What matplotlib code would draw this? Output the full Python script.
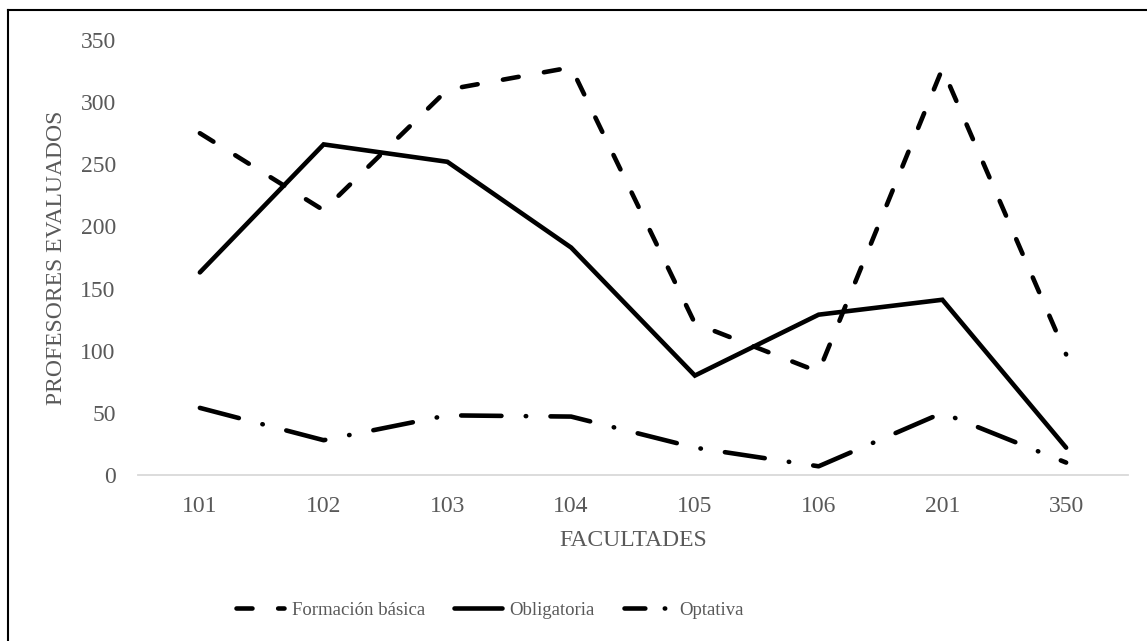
import matplotlib
matplotlib.use("Agg")
import matplotlib.pyplot as plt
from matplotlib.lines import Line2D

plt.rcParams['font.family'] = ['Liberation Serif', 'DejaVu Serif']
plt.rcParams['lines.scale_dashes'] = False

categories = ["101", "102", "103", "104", "105", "106", "201", "350"]
formacion_basica = [275, 213, 310, 328, 122, 83, 327, 97]
obligatoria = [163, 266, 252, 183, 80, 129, 141, 22]
optativa = [54, 28, 48, 47, 22, 7, 50, 10]
yticks = [0, 50, 100, 150, 200, 250, 300, 350]

W, H = 1147, 641
fig = plt.figure(figsize=(W / 100, H / 100), dpi=100)
ax = fig.add_axes([138 / W, 1 - 475 / H, 990 / W, 435 / H])

x = list(range(len(categories)))
lw = 3.3
ax.plot(x, formacion_basica, color='black', lw=lw, dash_capstyle='round',
        linestyle=(0, (11.5, 18.5)), label='Formación básica')
ax.plot(x, obligatoria, color='black', lw=lw, solid_capstyle='round',
        solid_joinstyle='miter', label='Obligatoria')
ax.plot(x, optativa, color='black', lw=lw, dash_capstyle='round',
        linestyle=(0, (29, 17.5, 0.3, 17.5)), label='Optativa')

ax.set_xlim(-0.5, len(categories) - 0.5)
ax.set_ylim(0, 350)
ax.set_xticks(x)
ax.set_xticklabels(categories)
ax.set_yticks(yticks)
ax.set_yticklabels([str(v) for v in yticks])
ax.tick_params(length=0, labelsize=17, labelcolor='#595959')
ax.tick_params(axis='y', pad=16)
ax.tick_params(axis='x', pad=15)

for s in ['top', 'right', 'left']:
    ax.spines[s].set_visible(False)
ax.spines['bottom'].set_color('#d9d9d9')
ax.spines['bottom'].set_linewidth(1.3)

ax.set_xlabel('FACULTADES', fontsize=17, color='#595959', va='center')
ax.xaxis.set_label_coords(0.5, (475 - 541) / 435)
ax.set_ylabel('PROFESORES EVALUADOS', fontsize=17, color='#595959', va='center')
ax.yaxis.set_label_coords((57 - 138) / 990, (475 - 258) / 435)

handles = [
    Line2D([], [], color='black', lw=lw, dash_capstyle='round', linestyle=(0, (11.5, 18.5))),
    Line2D([], [], color='black', lw=lw, solid_capstyle='round'),
    Line2D([], [], color='black', lw=lw, dash_capstyle='round', linestyle=(0, (15, 14, 0.3, 14))),
]
leg = fig.legend(handles, ['Formación básica', 'Obligatoria', 'Optativa'],
                 loc='center', bbox_to_anchor=(490 / W, 1 - 610 / H), ncol=3,
                 frameon=False, fontsize=13.5, handlelength=2.55, handletextpad=0.4,
                 columnspacing=1.55, labelcolor='#595959')

# outer chart border (left and top visible)
fig.add_artist(Line2D([8 / W, 8 / W], [0, 1 - 10 / H], color='black', lw=1.5,
                      transform=fig.transFigure))
fig.add_artist(Line2D([8 / W, 1], [1 - 10 / H, 1 - 10 / H], color='black', lw=1.5,
                      transform=fig.transFigure))

fig.savefig('out.png', dpi=100)
